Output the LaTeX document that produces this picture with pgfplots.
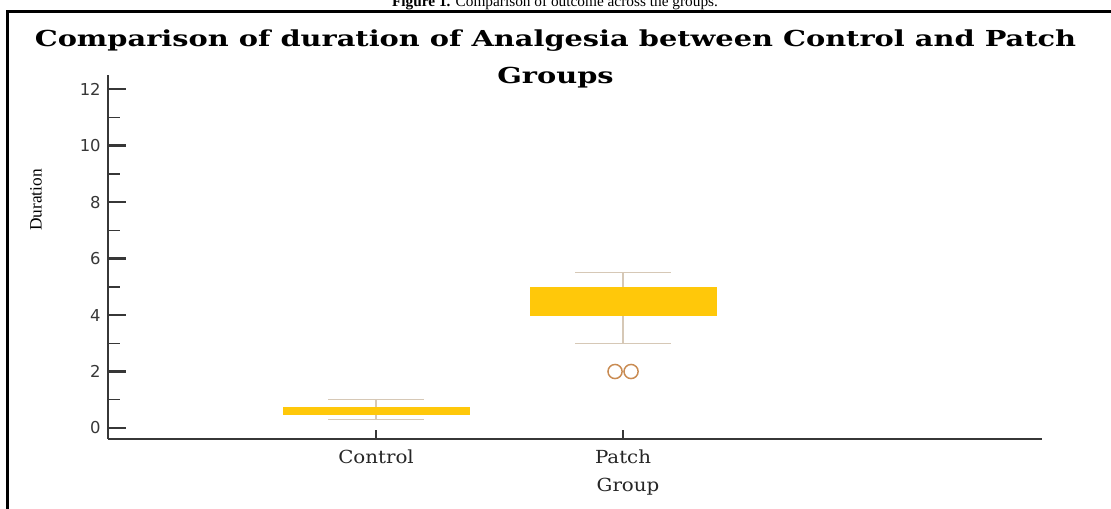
\documentclass[border=0pt]{standalone}
\usepackage{pgfplots}
\pgfplotsset{compat=1.18}
\usepgfplotslibrary{statistics}
\usepackage{fontspec}
\setmainfont{Liberation Serif}
\newfontfamily\slab{DejaVu Serif}
\newfontfamily\numfont{DejaVu Sans}

\definecolor{boxgold}{RGB}{255,200,10}
\definecolor{whisk}{RGB}{214,200,182}
\definecolor{outl}{RGB}{201,139,82}
\definecolor{axgray}{RGB}{55,55,55}

\begin{document}
\begin{tikzpicture}[x=0.75pt,y=-0.75pt]
% frame and caption (1 unit = 1 px of the reference)
\draw[line width=2.2pt] (7.5,520) -- (7.5,11.5) -- (1120,11.5);
\node[font=\fontsize{11.5}{14}\selectfont, anchor=base] at (555,7)
  {\textbf{Figure 1.} Comparison of outcome across the groups.};

% title
\node[font=\slab\bfseries\fontsize{16.5}{18}\selectfont, anchor=base] at (555.5,47)
  {\scalebox{1.31}[1]{Comparison of duration of Analgesia between Control and Patch}};
\node[font=\slab\bfseries\fontsize{16.5}{18}\selectfont, anchor=base] at (555.5,84)
  {\scalebox{1.31}[1]{Groups}};

\begin{axis}[
  at={(81pt,-329.25pt)}, anchor=south west,
  scale only axis, width=700.5pt, height=273pt,
  xmin=-0.085, xmax=3.696, ymin=-0.39, ymax=12.5,
  axis x line=bottom, axis y line=left,
  axis line style={-, draw=axgray, line width=2.2pt},
  xtick={1,2}, xticklabels={Control,Patch},
  x tick style={draw=none},
  y tick style={draw=axgray},
  x tick label style={font=\slab\fontsize{13.5}{15}\selectfont, text=black!85,
    xscale=1.1, yshift=-4.5pt},
  ytick={0,2,...,12}, minor ytick={1,3,...,11},
  y tick label style={font=\numfont\fontsize{12.3}{13}\selectfont, text=axgray, xshift=-2pt},
  /pgf/number format/assume math mode=true,
  tick align=inside,
  major tick length=13.5pt, minor tick length=9pt,
  major tick style={line width=1.7pt},
  minor tick style={line width=1.1pt},
  boxplot/draw direction=y,
  clip=false,
]
% Control
\addplot[boxplot prepared={draw position=1,
    lower whisker=0.3, lower quartile=0.45, median=0.6,
    upper quartile=0.75, upper whisker=1.0,
    box extend=0.757, whisker extend=0.385,
    every box/.style={fill=boxgold, draw=none},
    every whisker/.style={draw=whisk, line width=1pt},
    every median/.style={draw=none}}] coordinates {};
% Patch
\addplot[boxplot prepared={draw position=2,
    lower whisker=3.0, lower quartile=3.95, median=4.5,
    upper quartile=5.0, upper whisker=5.5,
    box extend=0.757, whisker extend=0.385,
    every box/.style={fill=boxgold, draw=none},
    every whisker/.style={draw=whisk, line width=1pt},
    every median/.style={draw=none}}] coordinates {};
% outliers
\addplot[only marks, mark=o, mark size=5.3pt,
  mark options={draw=outl, line width=1.1pt}] coordinates {(1.9676,2) (2.0324,2)};
% x ticks
\draw[axgray, line width=1.7pt] (axis cs:1,-0.39) -- ++(0pt,7pt);
\draw[axgray, line width=1.7pt] (axis cs:2,-0.39) -- ++(0pt,7pt);
\end{axis}

\node[font=\slab\fontsize{13.5}{15}\selectfont, text=black!85, xscale=1.1] at (628,487) {Group};
\node[font=\fontsize{13}{15}\selectfont, rotate=90] at (36,200) {Duration};

\pgfresetboundingbox
\path[use as bounding box] (0,0) rectangle (1111,509);
\end{tikzpicture}
\end{document}
